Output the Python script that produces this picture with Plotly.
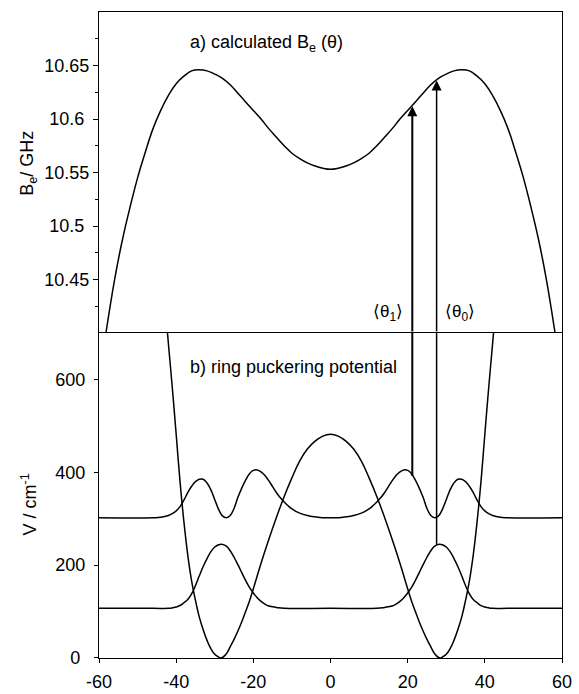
import plotly.graph_objects as go
from plotly.subplots import make_subplots

# ---------------- data ----------------
theta_be = [-58.2, -56, -54, -52, -50, -48, -46, -44, -42, -40, -38, -36, -34, -32, -30,
            -28, -26, -24, -22, -20, -18, -16, -14, -12, -10, -8, -6, -4, -2, 0,
            2, 4, 6, 8, 10, 12, 14, 16, 18, 20, 22, 24, 26, 28, 30,
            32, 34, 36, 38, 40, 42, 44, 46, 48, 50, 52, 54, 56, 58.2]
be_ghz = [10.400, 10.449, 10.486, 10.517, 10.545, 10.569, 10.591, 10.608, 10.622, 10.633,
          10.640, 10.645, 10.646, 10.645, 10.642, 10.638, 10.632, 10.624, 10.616, 10.608,
          10.600, 10.591, 10.583, 10.575, 10.568, 10.563, 10.559, 10.556, 10.554, 10.553,
          10.554, 10.556, 10.559, 10.563, 10.568, 10.575, 10.583, 10.591, 10.600, 10.608,
          10.616, 10.624, 10.632, 10.638, 10.642, 10.645, 10.646, 10.645, 10.640, 10.633,
          10.622, 10.608, 10.591, 10.569, 10.545, 10.517, 10.486, 10.449, 10.400]

theta_v = [-43, -42, -41, -40, -39, -38, -37, -36, -35, -34, -33, -32, -31, -30, -29, -28.6,
           -28, -27, -26, -25, -24, -23, -22, -21, -20, -18, -16, -14, -12, -10, -8, -6, -4, -2, 0,
           2, 4, 6, 8, 10, 12, 14, 16, 18, 20, 21, 22, 23, 24, 25, 26, 27, 28, 28.6,
           29, 30, 31, 32, 33, 34, 35, 36, 37, 38, 39, 40, 41, 42, 43]
potential = [772, 676, 582, 482, 380, 294, 222, 166, 124, 88, 61, 38, 20, 8, 2, 0,
             1, 9, 24, 40, 58, 78, 100, 123, 149, 204, 255, 303, 348, 388, 424, 450, 467, 478, 482,
             478, 467, 450, 424, 388, 348, 303, 255, 204, 149, 123, 100, 78, 58, 40, 24, 9, 1, 0,
             2, 8, 20, 38, 61, 88, 124, 166, 222, 294, 380, 482, 582, 676, 772]

theta_g = [-60, -46, -42, -41, -40, -39, -38, -37, -36, -35, -34, -33, -32, -31, -30, -29, -28.2,
           -27, -26, -25, -24, -23, -22, -21, -20, -19, -18, -17, -16, -14, -12, 0,
           12, 14, 16, 17, 18, 19, 20, 21, 22, 23, 24, 25, 26, 27, 28.2,
           29, 30, 31, 32, 33, 34, 35, 36, 37, 38, 39, 40, 41, 42, 46, 60]
psi0 = [107, 107, 107, 108, 110, 113, 119, 126, 138, 156, 177, 197, 214, 229, 239, 244, 245,
        241, 231, 217, 201, 184, 167, 152, 140, 130, 122, 116, 112, 109, 107, 107,
        107, 109, 112, 116, 122, 130, 140, 152, 167, 184, 201, 217, 231, 241, 245,
        244, 239, 229, 214, 197, 177, 156, 138, 126, 119, 113, 110, 108, 107, 107, 107]

theta_e = [-60, -46, -44, -42, -41, -40, -39, -38, -37, -36, -35, -34, -33, -32, -31, -30, -29,
           -28, -27, -26, -25, -24, -23, -22, -21, -20, -19, -18, -17, -16, -15, -14, -13, -12,
           -11, -10, -9, -8, -6, -4, -2, 0,
           2, 4, 6, 8, 9, 10, 11, 12, 13, 14, 15, 16, 17, 18, 19, 20, 21, 22, 23, 24, 25, 26,
           27, 28, 29, 30, 31, 32, 33, 34, 35, 36, 37, 38, 39, 40, 41, 42, 44, 46, 60]
psi1 = [302, 302, 303, 307, 311, 317, 326, 340, 356, 370, 380, 385, 385, 377, 362, 341, 320,
        306, 302, 307, 322, 346, 366, 383, 397, 404, 405, 401, 393, 382, 369, 356, 345, 336,
        328, 321, 316, 312, 307, 304, 302, 302,
        302, 304, 307, 312, 316, 321, 328, 336, 345, 356, 369, 382, 393, 401, 405, 404, 397, 383,
        366, 346, 322, 307, 302, 306, 320, 341, 362, 377, 385, 385, 380, 370, 356, 340, 326, 317,
        311, 307, 303, 302, 302]

# expectation values <theta_1>, <theta_0>
theta_avg = [21.2, 27.5]
avg_labels = ["\u27e8\u03b8<sub>1</sub>\u27e9", "\u27e8\u03b8<sub>0</sub>\u27e9"]
arrow_start_v = [392, 244]
arrow_end_be = [10.612, 10.636]
arrow_widths = [2.0, 1.5]

x_ticks = [-60, -40, -20, 0, 20, 40, 60]
x_ticktext = ["-60", "-40", "-20", "0", "20", "40", "60"]
be_ticks = [10.45, 10.5, 10.55, 10.6, 10.65]
be_ticktext = ["10.45", "10.5\u00a0", "10.55", "10.6\u00a0", "10.65"]
be_minor = [10.425, 10.475, 10.525, 10.575, 10.625, 10.675]
v_ticks = [0, 200, 400, 600]
v_ticktext = ["0\u00a0\u00a0", "200\u00a0", "400\u00a0", "600\u00a0"]

FONT = "Liberation Sans, Arial, Helvetica, sans-serif"
BLACK = "#000000"

fig = make_subplots(rows=2, cols=1, shared_xaxes=True, vertical_spacing=0,
                    row_heights=[0.4969, 0.5031])

line = dict(color=BLACK, width=1.5, shape="spline", smoothing=1.2)
fig.add_trace(go.Scatter(x=theta_be, y=be_ghz, mode="lines", line=line,
                         showlegend=False, hoverinfo="skip"), row=1, col=1)
fig.add_trace(go.Scatter(x=theta_v, y=potential, mode="lines", line=line,
                         showlegend=False, hoverinfo="skip"), row=2, col=1)
fig.add_trace(go.Scatter(x=theta_g, y=psi0, mode="lines", line=line,
                         showlegend=False, hoverinfo="skip"), row=2, col=1)
fig.add_trace(go.Scatter(x=theta_e, y=psi1, mode="lines", line=line,
                         showlegend=False, hoverinfo="skip"), row=2, col=1)

v_top = 700
be_bottom = 10.40
for th, v0, w in zip(theta_avg, arrow_start_v, arrow_widths):
    fig.add_trace(go.Scatter(x=[th, th], y=[v0, v_top], mode="lines",
                             line=dict(color=BLACK, width=w),
                             showlegend=False, hoverinfo="skip"), row=2, col=1)

annotations = []
for th, be, w in zip(theta_avg, arrow_end_be, arrow_widths):
    annotations.append(dict(x=th, y=be, ax=th, ay=be_bottom, xref="x", yref="y",
                            axref="x", ayref="y", text="", showarrow=True,
                            arrowhead=2, arrowsize=2.0 / w, arrowwidth=w,
                            arrowcolor=BLACK, standoff=0))
label_x = [14.9, 33.5]
for lx, txt in zip(label_x, avg_labels):
    annotations.append(dict(x=lx, y=10.419, xref="x", yref="y", text=txt,
                            showarrow=False, xanchor="center", yanchor="middle",
                            font=dict(family=FONT, size=17, color=BLACK)))

annotations.append(dict(x=-36.9, y=10.671, xref="x", yref="y",
                        text="a) calculated B<sub>e</sub> (\u03b8)", showarrow=False,
                        xanchor="left", yanchor="middle",
                        font=dict(family=FONT, size=18, color=BLACK)))
annotations.append(dict(x=-36.9, y=626, xref="x2", yref="y2",
                        text="b) ring puckering potential", showarrow=False,
                        xanchor="left", yanchor="middle",
                        font=dict(family=FONT, size=18, color=BLACK)))
annotations.append(dict(x=-0.152, y=0.766, xref="paper", yref="paper",
                        text="B<sub>e</sub>/ GHz", showarrow=False, textangle=-90,
                        xanchor="center", yanchor="middle",
                        font=dict(family=FONT, size=18, color=BLACK)))
annotations.append(dict(x=-0.15, y=0.237, xref="paper", yref="paper",
                        text="V / cm<sup>-1</sup>", showarrow=False, textangle=-90,
                        xanchor="center", yanchor="middle",
                        font=dict(family=FONT, size=18, color=BLACK)))

axis_common = dict(showline=True, linecolor=BLACK, linewidth=1.3,
                   showgrid=False, zeroline=False, tickcolor=BLACK, automargin=False,
                   tickfont=dict(family=FONT, size=18, color=BLACK))

fig.update_xaxes(range=[-60, 60], **axis_common)
# top panel: only its upper frame line (the shared border is drawn by the lower panel)
fig.update_xaxes(showticklabels=False, ticks="", side="top", mirror=False, row=1, col=1)
fig.update_xaxes(tickmode="array", tickvals=x_ticks, ticktext=x_ticktext, ticks="outside",
                 ticklen=4, tickwidth=1.3, mirror=True, ticklabelstandoff=3, row=2, col=1)

fig.update_yaxes(mirror=True, **axis_common)
fig.update_yaxes(range=[10.40, 10.70], tickmode="array", tickvals=be_ticks,
                 ticktext=be_ticktext, ticks="outside", ticklen=5, tickwidth=1.3,
                 minor=dict(tickmode="array", tickvals=be_minor, ticks="outside",
                            ticklen=3, tickwidth=1.1, tickcolor=BLACK),
                 row=1, col=1)
fig.update_yaxes(range=[0, 700], tickmode="array", tickvals=v_ticks,
                 ticktext=v_ticktext, ticks="outside", ticklen=4, tickwidth=1.3,
                 row=2, col=1)

fig.update_layout(width=579, height=694, margin=dict(l=99, r=17, t=12, b=36),
                  paper_bgcolor="white", plot_bgcolor="white",
                  font=dict(family=FONT, size=18, color=BLACK),
                  annotations=annotations, showlegend=False)

fig.write_html("out.html")
